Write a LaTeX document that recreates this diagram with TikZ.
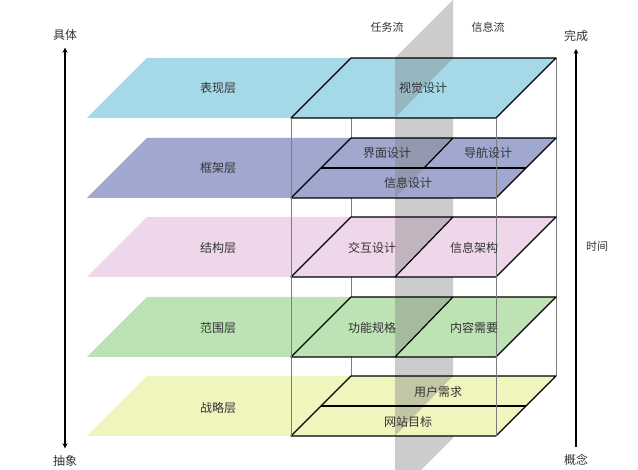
\documentclass[tikz,border=0pt]{standalone}
\usepackage{fontspec}
\setmainfont{Noto Sans CJK SC}
\usetikzlibrary{positioning,calc}
\definecolor{textColor}{RGB}{51,51,51}
\definecolor{postColor}{RGB}{125,125,125}
\definecolor{surfaceColor}{RGB}{166,217,232}
\definecolor{skeletonColor}{RGB}{160,168,207}
\definecolor{structureColor}{RGB}{238,215,234}
\definecolor{scopeColor}{RGB}{189,227,181}
\definecolor{strategyColor}{RGB}{240,245,190}

\begin{document}
\begin{tikzpicture}[x=1pt,y=-1pt,textColor]
    \tikzstyle{outline} = [draw=black,line width=1.2pt,line join=round]
    \tikzstyle{post} = [draw=postColor,line width=0.7pt]
    \tikzstyle{plane} = [fill=black!50,fill opacity=.4]
    \tikzstyle{txt} = [font=\fontsize{12}{14}\selectfont,inner sep=3pt]
    \tikzstyle{small} = [txt,font=\fontsize{11}{13}\selectfont]
    \tikzstyle{axis} = [draw=black,line width=1.2pt,shorten <=4pt,shorten >=4pt]
    \tikzset{>={stealth}}

    \useasboundingbox (0,0) rectangle (638,470);

    % back posts and the flow plane
    \draw[post] (351,58) -- (351,376);
    \draw[post] (556,58) -- (556,376);
    \begin{scope}
      \clip (0,0) rectangle (638,470);
      \fill[plane] (395,58) -- (453,0) -- (453,438) -- (395,496) -- cycle;
    \end{scope}

    % layers
    \foreach \yt/\col in {58/surfaceColor,138/skeletonColor,217/structureColor,297/scopeColor,376/strategyColor}{
      \fill[\col] (87,\yt+60) -- (147,\yt) -- (556,\yt) -- (496,\yt+60) -- cycle;
      \fill[plane] (395,\yt) -- (453,\yt) -- (395,\yt+60) -- cycle;
      \draw[outline] (291,\yt+60) -- (351,\yt) -- (556,\yt) -- (496,\yt+60) -- cycle;
    }
    \draw[outline] (321,168) -- (526,168);
    \draw[outline] (424,168) -- (453,138);
    \draw[outline] (395,277) -- (453,217);
    \draw[outline] (395,357) -- (453,297);
    \draw[outline] (321,406) -- (526,406);

    % front posts
    \draw[post] (291,118) -- (291,436);
    \draw[post] (496,118) -- (496,436);

    \node[txt] (surface) at (218,88) {表现层};
    \node[txt] (skeleton) at (218,168) {框架层};
    \node[txt] (structure) at (218,248) {结构层};
    \node[txt] (scope) at (218,328) {范围层};
    \node[txt] (strategy) at (218,408) {战略层};

    \node[txt] (visual) at (423,88) {视觉设计};
    \node[txt] (interface) at (387,153) {界面设计};
    \node[txt] (navigation) at (488,153) {导航设计};
    \node[txt] (infodesign) at (408,183) {信息设计};
    \node[txt] (interaction) at (372,248) {交互设计};
    \node[txt] (infoarch) at (474,248) {信息架构};
    \node[txt] (function) at (372,328) {功能规格};
    \node[txt] (content) at (474,328) {内容需要};
    \node[txt] (userneed) at (438,392) {用户需求};
    \node[txt] (sitegoal) at (408,422) {网站目标};

    \node[small] (taskflow) at (387,27) {任务流};
    \node[small] (infoflow) at (488,27) {信息流};

    % axes
    \node[txt] (concrete) at (65,35) {具体};
    \node[txt] (abstract) at (65,461) {抽象};
    \draw[axis,<->] (concrete.south) -- (abstract.north);

    \node[txt] (done) at (576,36) {完成};
    \node[txt] (concept) at (576,460) {概念};
    \draw[axis,->] (concept.north) -- (done.south);
    \node[small] (time) at (597,246) {时间};

  \end{tikzpicture}
\end{document}
